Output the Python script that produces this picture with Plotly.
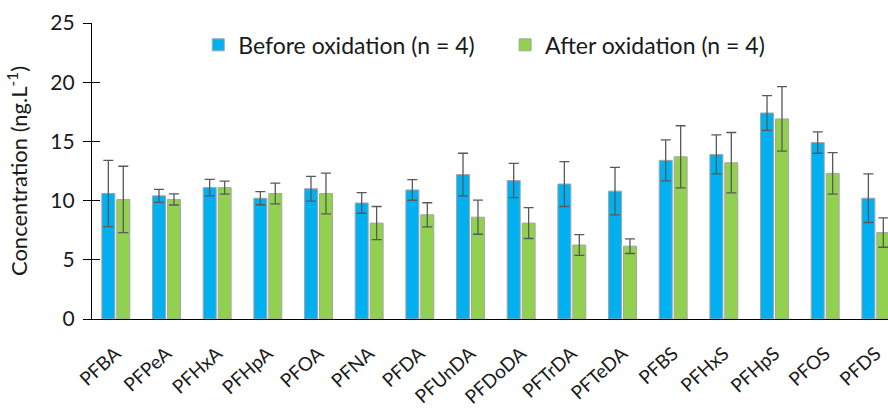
import plotly.graph_objects as go

categories = ["PFBA", "PFPeA", "PFHxA", "PFHpA", "PFOA", "PFNA", "PFDA", "PFUnDA",
              "PFDoDA", "PFTrDA", "PFTeDA", "PFBS", "PFHxS", "PFHpS", "PFOS", "PFDS"]
before_vals = [10.6, 10.4, 11.1, 10.2, 11.0, 9.8, 10.9, 12.2, 11.7, 11.4, 10.8, 13.4, 13.9, 17.4, 14.9, 10.2]
before_err = [2.8, 0.55, 0.7, 0.55, 1.05, 0.87, 0.87, 1.8, 1.45, 1.9, 2.0, 1.73, 1.65, 1.47, 0.9, 2.05]
after_vals = [10.1, 10.1, 11.1, 10.6, 10.6, 8.1, 8.8, 8.6, 8.1, 6.25, 6.15, 13.7, 13.2, 16.9, 12.3, 7.3]
after_err = [2.8, 0.47, 0.55, 0.88, 1.72, 1.4, 1.02, 1.44, 1.3, 0.87, 0.62, 2.62, 2.55, 2.72, 1.75, 1.24]
y_ticks = [0, 5, 10, 15, 20, 25]

FONT = "Lato"
x_idx = list(range(len(categories)))

fig = go.Figure()
fig.add_trace(go.Bar(
    x=x_idx, y=before_vals, name="Before oxidation (n = 4)",
    marker=dict(color="#00B0F0", line=dict(color="#A6A6A6", width=1)),
    error_y=dict(type="data", array=before_err, visible=True, color="#595959", thickness=1.3, width=5),
    legend="legend",
))
fig.add_trace(go.Bar(
    x=x_idx, y=after_vals, name="After oxidation (n = 4)",
    marker=dict(color="#92D050", line=dict(color="#A6A6A6", width=1)),
    error_y=dict(type="data", array=after_err, visible=True, color="#595959", thickness=1.3, width=5),
    legend="legend2",
))
# invisible helper trace on second y axis for crossing ticks
fig.add_trace(go.Scatter(x=[0], y=[0], yaxis="y2", mode="markers",
                         marker=dict(opacity=0), showlegend=False, hoverinfo="skip"))

fig.update_layout(
    width=888, height=409,
    margin=dict(l=92, r=0, t=23, b=90),
    paper_bgcolor="white", plot_bgcolor="white",
    barmode="group", bargap=0.41, bargroupgap=0.13,
    font=dict(family=FONT, size=17, color="#1a1a1a"),
    xaxis=dict(
        range=[-0.47, 15.24], tickmode="array", tickvals=x_idx, ticktext=categories,
        tickangle=-42, tickfont=dict(size=19), showgrid=False, zeroline=False,
        showline=True, linecolor="black", linewidth=1.3, ticks="", automargin=False,
        ticklabelstandoff=15,
    ),
    yaxis=dict(
        range=[0, 25], tickvals=y_ticks, showgrid=False, zeroline=False,
        showline=True, linecolor="black", linewidth=1.3, ticks="outside", ticklen=8,
        tickcolor="black", tickwidth=1.3, tickfont=dict(size=21), ticklabelstandoff=4,
        title=dict(text="Concentration (ng.L<sup>-1</sup>)", font=dict(size=22), standoff=16),
        automargin=False,
    ),
    yaxis2=dict(
        range=[0, 25], overlaying="y", side="left", anchor="x", tickvals=y_ticks,
        showticklabels=False, ticks="inside", ticklen=8, tickcolor="black", tickwidth=1.3,
        showgrid=False, zeroline=False, showline=False, automargin=False,
    ),
    legend=dict(orientation="h", x=0.1335, y=0.926, xanchor="left", yanchor="middle",
                font=dict(size=23), bgcolor="rgba(0,0,0,0)"),
    legend2=dict(orientation="h", x=0.519, y=0.926, xanchor="left", yanchor="middle",
                 font=dict(size=23), bgcolor="rgba(0,0,0,0)"),
)

fig.write_html("out.html", config={"displayModeBar": False},
               post_script="document.body.style.margin='0';document.body.style.overflow='hidden';")
